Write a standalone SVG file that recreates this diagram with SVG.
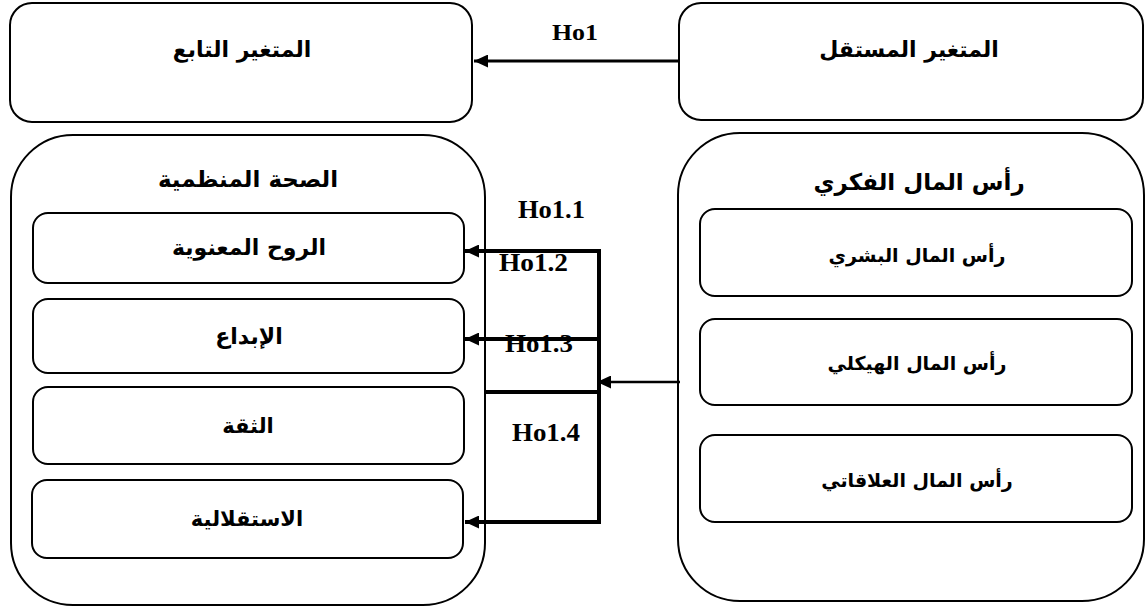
<svg xmlns="http://www.w3.org/2000/svg" width="1146" height="609" viewBox="0 0 1146 609">
<style>
.box{fill:#fff;stroke:#000;stroke-width:2}
.ar{font-family:"DejaVu Sans","Noto Sans",sans-serif;font-weight:bold;text-anchor:middle;fill:#000}
.top{font-size:22px}
.ttl{font-size:23px}
.inl{font-size:21px}
.inl2{font-size:22px}
.inr{font-size:19px}
.lbl{font-family:"Liberation Serif",serif;font-weight:bold;fill:#000;font-size:25px}
.con{stroke:#000;fill:none}
</style>
<defs>
<marker id="ah" markerUnits="userSpaceOnUse" markerWidth="15" markerHeight="13" refX="14" refY="6.5" orient="auto">
<path d="M0,0 L14,6.5 L0,13 z" fill="#000"/>
</marker>
</defs>
<rect width="1146" height="609" fill="#fff"/>
<g id="dependent">
<rect class="box" x="10" y="3" width="462" height="119" rx="22"/>
<text class="ar top" x="242" y="57">المتغير التابع</text>
</g>
<g id="independent">
<rect class="box" x="679" y="3" width="464" height="117" rx="22"/>
<text class="ar top" x="909" y="57">المتغير المستقل</text>
</g>
<g id="org-health">
<rect class="box" x="11" y="135" width="474" height="470" rx="62"/>
<text class="ar ttl" x="248" y="187">الصحة المنظمية</text>
<g id="morale">
<rect class="box" x="33" y="213" width="431" height="70" rx="15"/>
<text class="ar inl2" x="249" y="255">الروح المعنوية</text>
</g>
<g id="creativity">
<rect class="box" x="33" y="299" width="431" height="74" rx="15"/>
<text class="ar inl2" x="249" y="344">الإبداع</text>
</g>
<g id="trust">
<rect class="box" x="33" y="387" width="431" height="77" rx="15"/>
<text class="ar inl" x="248" y="433">الثقة</text>
</g>
<g id="autonomy">
<rect class="box" x="32" y="480" width="431" height="78" rx="15"/>
<text class="ar inl" x="247" y="526">الاستقلالية</text>
</g>
</g>
<g id="intellectual-capital">
<rect class="box" x="678" y="133" width="466" height="468" rx="62"/>
<text class="ar ttl" x="919" y="190">رأس المال  الفكري</text>
<g id="human">
<rect class="box" x="700" y="209" width="432" height="87" rx="15"/>
<text class="ar inr" x="917" y="262">رأس المال البشري</text>
</g>
<g id="structural">
<rect class="box" x="700" y="319" width="432" height="86" rx="15"/>
<text class="ar inr" x="917" y="370">رأس المال الهيكلي</text>
</g>
<g id="relational">
<rect class="box" x="700" y="435" width="432" height="87" rx="15"/>
<text class="ar inr" x="917" y="487">رأس المال العلاقاتي</text>
</g>
</g>
<g id="labels">
<text class="lbl" x="552" y="40" style="font-size:24px" textLength="46" lengthAdjust="spacingAndGlyphs">Ho1</text>
<text class="lbl" x="518" y="218" textLength="67" lengthAdjust="spacingAndGlyphs">Ho1.1</text>
<text class="lbl" x="499" y="271" textLength="69" lengthAdjust="spacingAndGlyphs">Ho1.2</text>
<text class="lbl" x="505" y="352" textLength="68" lengthAdjust="spacingAndGlyphs">Ho1.3</text>
<text class="lbl" x="512" y="441" textLength="68" lengthAdjust="spacingAndGlyphs">Ho1.4</text>
</g>
<g id="connectors">
<line class="con" x1="679" y1="61" x2="474" y2="61" stroke-width="3" marker-end="url(#ah)"/>
<line class="con" x1="680" y1="382" x2="597" y2="382" stroke-width="2.5" marker-end="url(#ah)"/>
<line class="con" x1="599" y1="249" x2="599" y2="524" stroke-width="4"/>
<line class="con" x1="601" y1="251" x2="465" y2="251" stroke-width="4" marker-end="url(#ah)"/>
<line class="con" x1="601" y1="339" x2="465" y2="339" stroke-width="4" marker-end="url(#ah)"/>
<line class="con" x1="601" y1="392" x2="485" y2="392" stroke-width="4"/>
<line class="con" x1="601" y1="522" x2="465" y2="522" stroke-width="4" marker-end="url(#ah)"/>
</g>
</svg>
